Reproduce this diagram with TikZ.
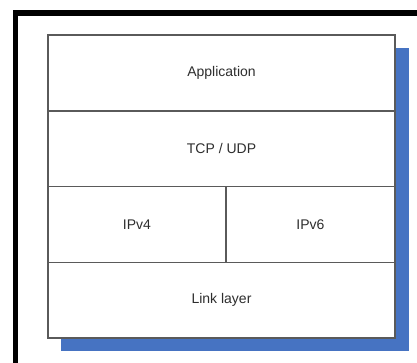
\documentclass[tikz,border=0pt]{standalone}
\usepackage{fontspec}
\setmainfont{Liberation Sans}
\usetikzlibrary{positioning}
\usetikzlibrary{backgrounds}
\definecolor{shadowblue}{HTML}{4673C2}
\definecolor{edgegray}{HTML}{5A5A5A}
\definecolor{textgray}{HTML}{2E2E2E}
\tikzset{
  every picture/.style={font={\fontsize{14pt}{16pt}\selectfont}, text=textgray}}

\begin{document}
\begin{tikzpicture}[x=1pt, y=-1pt,
    layer/.style={draw=edgegray, line width=1.4pt, fill=white,
      inner sep=0pt, outer sep=0pt, minimum height=75.75pt},
    fullwidth/.style={minimum width=347pt}]

    \useasboundingbox (0,0) rectangle (417,362);

    % frame
    \draw[line width=5.5pt, line cap=rect] (15.5,370) -- (15.5,13) -- (425,13);

    % protocol stack
    \node[layer, fullwidth] (app) at (221.5,73) {Application};
    \node[layer, fullwidth] (tcp) [below=0pt of app] {TCP / UDP};
    \node[layer, minimum width=178pt] (ipv4) [below right=0pt of tcp.south west] {IPv4};
    \node[layer, minimum width=169pt] (ipv6) [right=0pt of ipv4] {IPv6};
    \node[layer, fullwidth] (link) [below right=0pt of ipv4.south west] {Link layer};

    \begin{scope}[on background layer]
      \fill[shadowblue] ([shift={(13,13)}]app.north west)
        rectangle ([shift={(14,13)}]link.south east);
    \end{scope}
  \end{tikzpicture}
\end{document}
